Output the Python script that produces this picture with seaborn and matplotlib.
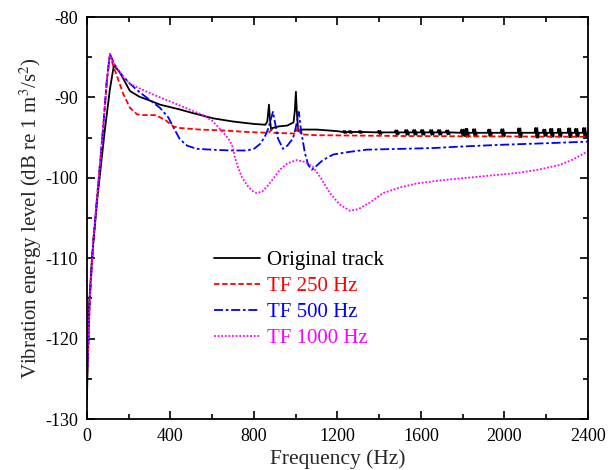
import pandas as pd
import matplotlib.pyplot as plt
from matplotlib.ticker import MultipleLocator
import seaborn as sns

# (frequency in Hz, level in dB)
original_pts = [
    (0, -127.6), (2, -125.0), (10, -116.0), (24, -110.0), (50, -102.5), (86, -94.0),
    (110, -89.0), (129, -86.0), (158, -86.9), (206, -89.2), (250, -89.9), (302, -90.4),
    (350, -90.9), (445, -91.5), (500, -91.9), (604, -92.6), (700, -93.0), (800, -93.3),
    (855, -93.4), (864, -93.0), (868, -92.0), (872, -90.9), (876, -92.5), (882, -94.0),
    (890, -93.8), (920, -93.6), (960, -93.5), (990, -93.1), (996, -91.6), (1001, -89.3),
    (1005, -91.6), (1012, -94.2), (1030, -94.0), (1100, -94.0), (1200, -94.2),
    # ripple bursts above ~1200 Hz
    (1226, -94.3), (1229, -94.18), (1233, -94.42), (1237, -94.18), (1241, -94.42), (1244, -94.3),
    (1253, -94.3), (1256, -94.18), (1260, -94.42), (1264, -94.18), (1268, -94.42), (1271, -94.3),
    (1301, -94.3), (1304, -94.18), (1308, -94.42), (1312, -94.18), (1316, -94.42), (1319, -94.3),
    (1393, -94.35), (1396, -94.15), (1401, -94.55), (1405, -94.15), (1410, -94.55), (1413, -94.35),
    (1475, -94.35), (1478, -94.10), (1483, -94.60), (1487, -94.10), (1492, -94.60), (1495, -94.35),
    (1523, -94.35), (1526, -94.05), (1531, -94.65), (1535, -94.05), (1540, -94.65), (1543, -94.35),
    (1561, -94.35), (1564, -94.05), (1569, -94.65), (1573, -94.05), (1578, -94.65), (1581, -94.35),
    (1599, -94.35), (1602, -94.05), (1607, -94.65), (1611, -94.05), (1616, -94.65), (1619, -94.35),
    (1642, -94.35), (1645, -94.05), (1650, -94.65), (1654, -94.05), (1659, -94.65), (1662, -94.35),
    (1680, -94.35), (1683, -94.05), (1688, -94.65), (1692, -94.05), (1697, -94.65), (1700, -94.35),
    (1719, -94.35), (1722, -94.10), (1727, -94.60), (1731, -94.10), (1736, -94.60), (1739, -94.35),
    (1791, -94.4), (1794, -94.00), (1799, -94.80), (1803, -94.00), (1808, -94.80), (1811, -94.4),
    (1814, -93.90), (1818, -94.90), (1822, -93.90), (1827, -94.90), (1830, -94.4),
    (1848, -94.4), (1851, -93.95), (1856, -94.85), (1860, -93.95), (1865, -94.85), (1868, -94.4),
    (1920, -94.4), (1923, -94.00), (1928, -94.80), (1932, -94.00), (1937, -94.80), (1940, -94.4),
    (1983, -94.4), (1986, -93.95), (1991, -94.85), (1995, -93.95), (2000, -94.85), (2003, -94.4),
    (2064, -94.4), (2067, -93.85), (2072, -94.95), (2076, -93.85), (2081, -94.95), (2084, -94.4),
    (2145, -94.4), (2148, -93.80), (2153, -95.00), (2157, -93.80), (2162, -95.00), (2165, -94.4),
    (2184, -94.4), (2187, -94.00), (2192, -94.80), (2196, -94.00), (2201, -94.80), (2204, -94.4),
    (2217, -94.4), (2220, -93.90), (2225, -94.90), (2229, -93.90), (2234, -94.90), (2237, -94.4),
    (2255, -94.4), (2258, -93.90), (2263, -94.90), (2267, -93.90), (2272, -94.90), (2275, -94.4),
    (2303, -94.4), (2306, -93.85), (2311, -94.95), (2315, -93.85), (2320, -94.95), (2323, -94.4),
    (2337, -94.4), (2340, -93.90), (2345, -94.90), (2349, -93.90), (2354, -94.90), (2357, -94.4),
    (2375, -94.4), (2378, -93.80), (2383, -95.00), (2387, -93.80), (2392, -95.00), (2395, -94.4),
    (2400, -94.4),
]

tf250_pts = [
    (0, -125.0), (5, -122.0), (14, -114.8), (30, -108.0), (50, -102.0), (77, -94.0),
    (95, -88.0), (110, -84.6), (125, -86.0), (150, -87.8), (173, -89.5), (206, -91.3),
    (240, -92.1), (270, -92.2), (330, -92.2), (380, -92.9), (413, -93.6), (445, -93.8),
    (541, -94.0), (650, -94.1), (766, -94.3), (870, -94.4), (885, -94.0), (895, -94.4),
    (1000, -94.5), (1012, -93.6), (1025, -94.6), (1100, -94.7), (1500, -94.8),
    (2400, -94.9),
]

tf500_pts = [
    (0, -125.0), (5, -122.0), (14, -114.8), (30, -108.0), (50, -102.0), (77, -94.0),
    (95, -88.0), (110, -84.6), (130, -85.8), (160, -87.0), (206, -88.3), (250, -89.3),
    (300, -90.3), (350, -91.3), (390, -92.5), (420, -94.0), (445, -95.2), (480, -96.0),
    (527, -96.4), (600, -96.5), (685, -96.6), (766, -96.6), (800, -96.4), (829, -95.8),
    (850, -95.0), (867, -94.0), (880, -92.8), (891, -91.8), (900, -93.0), (915, -95.1),
    (939, -96.4), (960, -96.0), (987, -95.1), (1000, -93.8), (1015, -91.8), (1025, -94.0),
    (1044, -96.9), (1060, -98.4), (1077, -99.0), (1100, -98.5), (1130, -97.8),
    (1180, -97.1), (1250, -96.8), (1340, -96.5), (1500, -96.4), (1658, -96.3),
    (1800, -96.1), (1978, -95.9), (2200, -95.7), (2400, -95.5),
]

tf1000_pts = [
    (0, -125.0), (5, -122.0), (14, -114.8), (30, -108.0), (50, -102.0), (77, -94.0),
    (95, -88.0), (110, -84.6), (130, -85.8), (160, -87.0), (206, -88.3), (287, -89.3),
    (350, -90.0), (445, -91.0), (500, -91.6), (556, -92.2), (600, -92.9), (651, -94.3),
    (685, -95.4), (700, -96.3), (709, -97.5), (725, -98.8), (742, -99.9), (766, -100.9),
    (790, -101.6), (814, -101.9), (840, -101.7), (862, -101.1), (890, -100.2),
    (924, -99.0), (960, -98.2), (1005, -97.8), (1040, -98.0), (1082, -98.6),
    (1120, -100.0), (1164, -101.9), (1210, -103.3), (1260, -104.1), (1300, -103.9),
    (1360, -103.0), (1418, -101.9), (1500, -101.2), (1580, -100.7), (1700, -100.3),
    (1820, -100.0), (1940, -99.7), (2060, -99.4), (2160, -99.0), (2265, -98.4),
    (2330, -97.7), (2400, -96.7),
]

series = [
    ("Original track", original_pts, "black", "-"),
    ("TF 250 Hz", tf250_pts, "red", (0, (3, 1.5))),
    ("TF 500 Hz", tf500_pts, "blue", (0, (5, 1.5, 1.5, 1.5))),
    ("TF 1000 Hz", tf1000_pts, "magenta", (0, (1, 1))),
]

sns.set_style("ticks")
plt.rcParams["font.family"] = ["Liberation Serif", "DejaVu Serif"]
plt.rcParams["axes.unicode_minus"] = False
plt.rcParams["mathtext.fontset"] = "stix"

fig = plt.figure(figsize=(6.08, 4.70), dpi=100, facecolor="white")
ax = fig.add_axes([0.143, 0.1085, 0.824, 0.8553])

for name, pts, color, ls in series:
    df = pd.DataFrame(pts, columns=["freq", "level"])
    sns.lineplot(data=df, x="freq", y="level", color=color, linestyle=ls,
                 linewidth=1.3, sort=False, estimator=None, label=name, ax=ax)

ax.set_xlim(0, 2400)
ax.set_ylim(-130, -80)
ax.xaxis.set_major_locator(MultipleLocator(400))
ax.xaxis.set_minor_locator(MultipleLocator(200))
ax.yaxis.set_major_locator(MultipleLocator(10))
ax.yaxis.set_minor_locator(MultipleLocator(5))
ax.tick_params(which="both", direction="in", top=True, right=True, width=1.2,
               labelsize=13, colors="black", pad=6.5)
ax.tick_params(which="major", length=6)
ax.tick_params(which="minor", length=3.5)
for sp in ax.spines.values():
    sp.set_linewidth(1.3)
    sp.set_color("black")

ax.set_xlabel("Frequency (Hz)", fontsize=15.5, labelpad=3)
ax.set_ylabel("Vibration energy level (dB re 1 m$^3$/s$^2$)", fontsize=15, labelpad=1)

leg = ax.legend(loc="upper left", bbox_to_anchor=(0.216, 0.465), frameon=False,
                fontsize=15, handlelength=2.2, handletextpad=0.35,
                labelspacing=0.3, labelcolor="linecolor")

fig.savefig("out.png", dpi=100, facecolor="white")
